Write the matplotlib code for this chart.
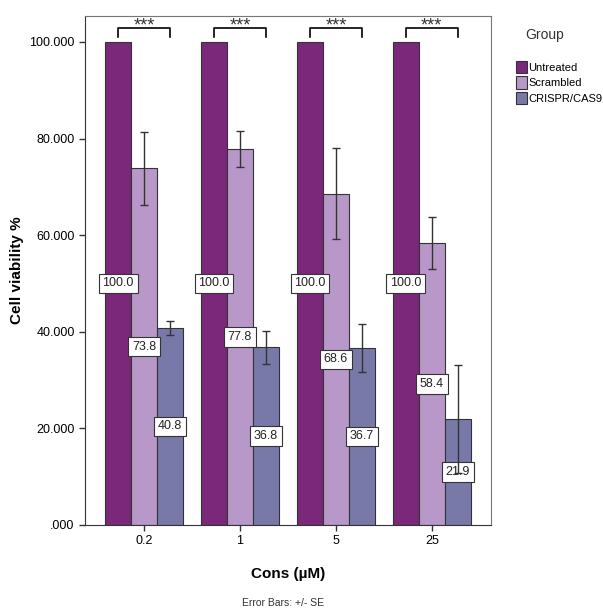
import matplotlib.pyplot as plt
import numpy as np

plt.rcParams["font.family"] = ["Liberation Sans", "DejaVu Sans"]

# data
conc = ["0.2", "1", "5", "25"]
groups = ["Untreated", "Scrambled", "CRISPR/CAS9"]
untreated = [100.0, 100.0, 100.0, 100.0]
scrambled = [73.8, 77.8, 68.6, 58.4]
crispr = [40.8, 36.8, 36.7, 21.9]
scrambled_se = [7.5, 3.7, 9.4, 5.4]
crispr_se = [1.5, 3.4, 5.0, 11.2]
colors = ["#7b287b", "#b898c9", "#7878a9"]

fig = plt.figure(figsize=(6.03, 6.09), dpi=100)
ax = fig.add_axes([0.141, 0.138, 0.673, 0.836])

x = np.arange(len(conc))
w = 0.27
series = [untreated, scrambled, crispr]
errs = [None, scrambled_se, crispr_se]

for i, (vals, err, col, name) in enumerate(zip(series, errs, colors, groups)):
    pos = x + (i - 1) * w
    ax.bar(pos, vals, width=w, color=col, edgecolor="#333333", linewidth=0.8,
           label=name, zorder=2)
    if err is not None:
        ax.errorbar(pos, vals, yerr=err, fmt="none", ecolor="#333333",
                    elinewidth=1, capsize=3, capthick=1, zorder=4)
    for p, v in zip(pos, vals):
        ax.text(p, v / 2, f"{v:.1f}", ha="center", va="center", fontsize=9,
                zorder=3, color="#222222",
                bbox=dict(boxstyle="square,pad=0.3", fc="white", ec="#333333", lw=0.8))

# significance brackets
for xi in x:
    x0, x1 = xi - w, xi + w
    ax.plot([x0, x0, x1, x1], [101.0, 102.8, 102.8, 101.0], color="black", lw=1.2,
            clip_on=False, zorder=5)
    ax.text(xi, 103.2, "***", ha="center", va="center", fontsize=13,
            color="#333333")

ax.set_xlim(-0.615, 3.615)
ax.set_ylim(0, 105.4)
ax.set_xticks(x)
ax.set_xticklabels(conc, fontsize=9)
yt = [0, 20, 40, 60, 80, 100]
ax.set_yticks(yt)
ax.set_yticklabels([".000" if v == 0 else f"{v:.3f}" for v in yt], fontsize=9)

for s in ["top", "right"]:
    ax.spines[s].set_color("#777777")
for s in ["left", "bottom"]:
    ax.spines[s].set_color("#333333")
ax.tick_params(length=4, width=1, color="#333333")

ax.set_ylabel("Cell viability %", fontsize=11, fontweight="bold", labelpad=4)
ax.set_xlabel("Cons (\u00b5M)", fontsize=11, fontweight="bold", labelpad=14)

fig.text(0.47, 0.002, "Error Bars: +/- SE", ha="center", va="bottom", fontsize=7.5,
         color="#333333")

fig.text(545 / 603, 1 - 35 / 609, "Group", ha="center", va="center", fontsize=10,
         color="#333333")
leg = ax.legend(loc="upper left", bbox_to_anchor=(1.05, 0.92), frameon=False,
                fontsize=8, handlelength=1.0, handleheight=1.3,
                handletextpad=0.15, labelspacing=0.3, borderaxespad=0)
for h in leg.legend_handles:
    h.set_edgecolor("#333333")

fig.savefig("out.png", dpi=100)
